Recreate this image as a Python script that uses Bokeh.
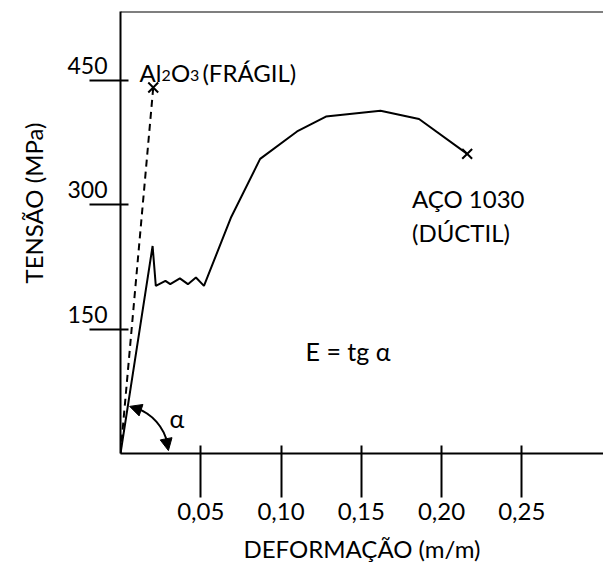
import numpy as np
from bokeh.plotting import figure
from bokeh.models import FixedTicker, Label, Span, Arrow, NormalHead, Title
from bokeh.embed import file_html
from bokeh.resources import INLINE

# ---------------- data ----------------
steel_strain = [0.0, 0.020, 0.022, 0.028, 0.031, 0.037, 0.042, 0.047, 0.052,
                0.069, 0.087, 0.110, 0.128, 0.162, 0.186, 0.216]
steel_stress = [0, 250, 202, 208, 204, 211, 204, 212, 202,
                285, 355, 388, 406, 413, 403, 361]
alumina_strain = [0.0, 0.0204]
alumina_stress = [0, 441]

x_ticks = [0.05, 0.10, 0.15, 0.20, 0.25]
x_tick_labels = ["0,05", "0,10", "0,15", "0,20", "0,25"]
y_ticks = [150, 300, 450]
y_tick_labels = ["150", "300", "450"]

# ---------------- layout ----------------
W, H = 603, 573
BL, BR, BT, BB = 120, 0, 11, 120
PXX = 1605.0            # px per strain unit
PXY = 0.83              # px per MPa
FW = W - BL - BR
FH = H - BT - BB
X_MAX = FW / PXX
Y_MAX = FH / PXY
FONT = "Lato"
LABEL_LIFT = 18         # y tick labels sit above their tick (MPa units)

p = figure(width=W, height=H, x_range=(0, X_MAX), y_range=(0, Y_MAX),
           output_backend="svg", toolbar_location=None,
           min_border_left=BL, min_border_right=BR,
           min_border_top=BT, min_border_bottom=BB)
p.outline_line_color = None
p.grid.visible = False
p.background_fill_color = "white"
p.border_fill_color = "white"

xa = p.xaxis[0]
xa.ticker = FixedTicker(ticks=x_ticks)
xa.major_label_overrides = dict(zip(x_ticks, x_tick_labels))
xa.axis_line_width = 2
xa.axis_line_color = "black"
xa.major_tick_line_width = 2
xa.major_tick_line_color = "black"
xa.major_tick_out = 44
xa.major_tick_in = 8
xa.minor_tick_line_color = None
xa.minor_tick_out = 0
xa.major_label_text_font = FONT
xa.major_label_text_font_size = "24px"
xa.major_label_text_color = "black"
xa.major_label_standoff = 5

# y axis: real ticks drawn as minor ticks, labels on (lifted) major positions
label_pos = [v + LABEL_LIFT for v in y_ticks]
ya = p.yaxis[0]
ya.ticker = FixedTicker(ticks=label_pos, minor_ticks=y_ticks)
ya.major_label_overrides = dict(zip(label_pos, y_tick_labels))
ya.axis_line_width = 2
ya.axis_line_color = "black"
ya.major_tick_line_color = None
ya.major_tick_out = 0
ya.major_tick_in = 0
ya.minor_tick_line_width = 2
ya.minor_tick_line_color = "black"
ya.minor_tick_out = 31
ya.minor_tick_in = 8
ya.major_label_text_font = FONT
ya.major_label_text_font_size = "23px"
ya.major_label_text_color = "black"
ya.major_label_standoff = -18

p.add_layout(Span(location=Y_MAX, dimension="width", line_width=2, line_color="black"))

# axis titles
p.add_layout(Title(text="DEFORMAÇÃO (m/m)", align="left", offset=123, standoff=18,
                   text_font=FONT, text_font_size="24px", text_font_style="normal",
                   text_color="black"), "below")
p.add_layout(Title(text="TENSÃO (MPa)", align="left", offset=170, standoff=33,
                   text_font=FONT, text_font_size="24px", text_font_style="normal",
                   text_color="black"), "left")

# ---------------- curves ----------------
p.line(steel_strain, steel_stress, line_width=2, line_color="black")
p.line(alumina_strain, alumina_stress, line_width=2, line_color="black", line_dash="7 5")
p.scatter([steel_strain[-1], alumina_strain[-1]], [steel_stress[-1], alumina_stress[-1]],
          marker="x", size=14, line_width=2, line_color="black")

# ---------------- angle alpha ----------------
R = 48
th0, th1 = np.radians(3.5), np.radians(79)
p.arc(x=0, y=0, radius=R, radius_units="screen",
      start_angle=th0 + np.radians(8), end_angle=th1 - np.radians(8),
      line_width=2, line_color="black")


def on_arc(th):
    return R * np.cos(th) / PXX, R * np.sin(th) / PXY


for tip, start in ((th1, th1 - np.radians(15)), (th0, th0 + np.radians(15))):
    xs, ys = on_arc(start)
    xe, ye = on_arc(tip)
    p.add_layout(Arrow(end=NormalHead(size=12, fill_color="black", line_color="black"),
                       x_start=xs, y_start=ys, x_end=xe, y_end=ye,
                       line_width=2, line_color="black"))


# ---------------- texts ----------------
def lab(x, y, text, size, dx=0, dy=0, **kw):
    p.add_layout(Label(x=x, y=y, text=text, text_font=FONT, text_font_size=size,
                       x_offset=dx, y_offset=dy,
                       text_color="black", text_baseline="alphabetic", **kw))


# Al2O3 (FRÁGIL) with real subscripts: (text, font size, x offset px, y offset px)
alumina_label = [("Al", "24px", 0, 0), ("2", "16px", 22, -3), ("O", "24px", 31.5, 0),
                 ("3", "16px", 50.5, -3), ("(FRÁGIL)", "24px", 63, 0)]
for txt, sz, dx, dy in alumina_label:
    lab(0.0118, 459.4, txt, sz, dx=dx, dy=dy)

lab(0.1816, 307.2, "AÇO 1030", "24px")
lab(0.1816, 266.6, "(DÚCTIL)", "24px")
lab(0.1153, 124.0, "E = tg α", "25px")
lab(0.0305, 42.2, "α", "25px")

open("out.html", "w").write(file_html(p, INLINE))
